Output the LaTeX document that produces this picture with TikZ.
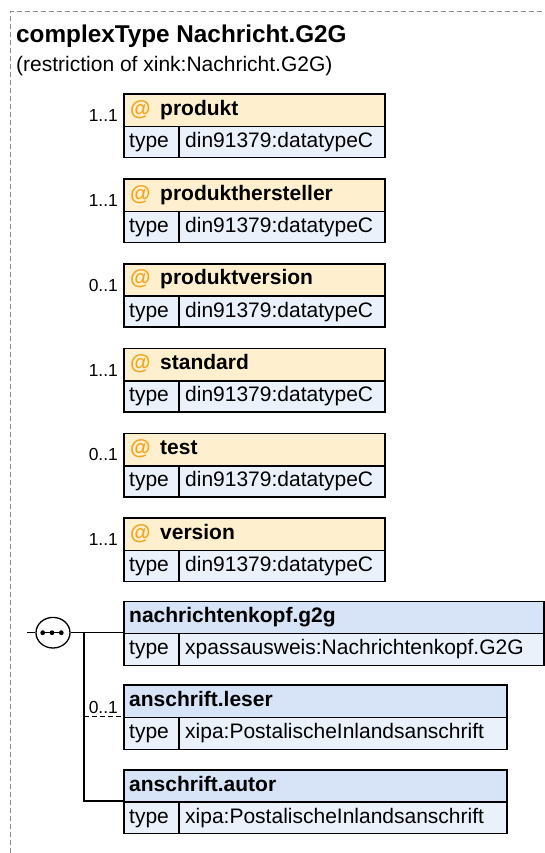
\documentclass[tikz,border=0pt]{standalone}
\usepackage{fontspec}
\setmainfont{Liberation Sans}
\usetikzlibrary{shapes.geometric,calc}
\definecolor{attrfill}{HTML}{FEEFCF}
\definecolor{typefill}{HTML}{EBF1FB}
\definecolor{elemfill}{HTML}{D7E3F7}
\definecolor{atcol}{HTML}{F5A31A}
\definecolor{bordergray}{HTML}{8A8A8A}
\tikzset{
  boxpart/.style={draw=black, line width=1.6pt, rectangle, inner sep=0pt, anchor=north west, minimum height=32pt},
  txt/.style={inner sep=0pt, anchor=base west, font=\fontsize{21}{25}\selectfont},
  btxt/.style={inner sep=0pt, anchor=base west, font=\fontsize{21}{25}\selectfont\bfseries},
  multtxt/.style={inner sep=0pt, anchor=base east, font=\fontsize{17.4}{20}\selectfont},
  conn/.style={draw=black, line width=1.3pt},
  optconn/.style={draw=black, line width=1.3pt, dashed, dash pattern=on 5pt off 3pt},
}
\newcommand\attrbox[4]{%
  \node[boxpart, fill=attrfill, minimum width=261pt, minimum height=32.4pt] (#1h) at (123,#2) {};
  \node[boxpart, fill=typefill, minimum width=261pt, minimum height=31pt] (#1t) at (123,{#2+32.4}) {};
  \draw[line width=1.3pt] ($(#1t.north west)+(56,0)$) coordinate (#1da) -- ($(#1t.south west)+(56,0)$) coordinate (#1db);
  \node[btxt, text=atcol] (#1at) at (130,{#2+22}) {@};
  \node[btxt] (#1n) at (160,{#2+22}) {#4};
  \node[txt] (#1ty) at (129,{#2+54.2}) {type};
  \node[txt] (#1tv) at (185,{#2+54.2}) {din91379:datatypeC};
  \node[multtxt] (#1m) at (118,{#2+28.4}) {#3};
}
\newcommand\elembox[6]{% id, top, width, name, type, divider
  \node[boxpart, fill=elemfill, minimum width=#3pt, minimum height=#6pt] (#1h) at (123,#2) {};
  \node[boxpart, fill=typefill, minimum width=#3pt, minimum height=31.8pt] (#1t) at (123,{#2+#6}) {};
  \draw[line width=1.3pt] ($(#1t.north west)+(56,0)$) coordinate (#1da) -- ($(#1t.south west)+(56,0)$) coordinate (#1db);
  \node[btxt] (#1n) at (129,{#2+22}) {#4};
  \node[txt] (#1ty) at (129,{#2+#6+22}) {type};
  \node[txt] (#1tv) at (185,{#2+#6+22}) {#5};
}
\begin{document}
\begin{tikzpicture}[x=1pt,y=-1pt]
\useasboundingbox (0,0) rectangle (545,853);
% dashed frame
\draw[bordergray, line width=1pt, dash pattern=on 5pt off 3pt] (10,853) -- (10,12) -- (545,12);
% title
\node[inner sep=0pt, anchor=base west, font=\fontsize{24.3}{28}\selectfont\bfseries] (title) at (16,43) {complexType Nachricht.G2G};
\node[txt] (subtitle) at (16,72) {(restriction of xink:Nachricht.G2G)};
% attributes
\attrbox{a1}{93.3}{1..1}{produkt}
\attrbox{a2}{178.1}{1..1}{produkthersteller}
\attrbox{a3}{262.9}{0..1}{produktversion}
\attrbox{a4}{347.7}{1..1}{standard}
\attrbox{a5}{432.5}{0..1}{test}
\attrbox{a6}{517.3}{1..1}{version}
% elements
\elembox{e1}{600.7}{420.3}{nachrichtenkopf.g2g}{xpassausweis:Nachrichtenkopf.G2G}{32}
\elembox{e2}{684.3}{383}{anschrift.leser}{xipa:PostalischeInlandsanschrift}{32.4}
\elembox{e3}{769}{383}{anschrift.autor}{xipa:PostalischeInlandsanschrift}{32}
% sequence compositor
\coordinate (inl) at (27,632.7);
\node[draw=black, fill=white, line width=1.3pt, ellipse, minimum width=34pt, minimum height=30.6pt, inner sep=0pt] (seq) at (53,632.7) {};
\draw[conn] (inl) -- (seq.west);
\draw[line width=1.2pt] (42.7,632.7) -- (61.3,632.7);
\foreach \dx in {42.7,52,61.3} \fill (\dx,632.7) circle (2.4pt);
\coordinate (branch) at (84,632.7);
\coordinate (b2) at (84,716.7);
\coordinate (b3) at (84,801);
\draw[conn] (seq.east) -- (e1t.north west);
\draw[conn] (branch) -- (b3) -- (e3t.north west);
\draw[optconn] (b2) -- (e2t.north west);
\node[multtxt] (e2m) at (118,713.3) {0..1};
\end{tikzpicture}
\end{document}
